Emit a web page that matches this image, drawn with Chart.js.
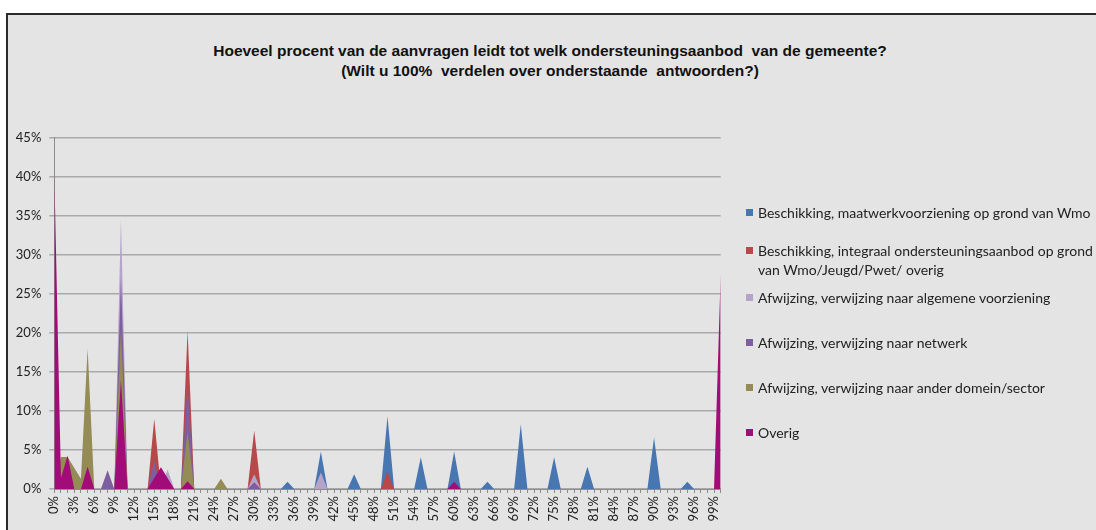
<!DOCTYPE html>
<html>
<head>
<meta charset="utf-8">
<script src="https://cdn.jsdelivr.net/npm/chart.js@4.4.0/dist/chart.umd.min.js"></script>
<style>
  html, body { margin: 0; padding: 0; background: #fff; }
  body { width: 1096px; height: 530px; position: relative; overflow: hidden; }
  #frame { position: absolute; left: 6px; top: 13px; width: 1100px; height: 530px;
           background: #e4e4e4; border-left: 2px solid #2b2b2b; border-top: 2px solid #2b2b2b; }
  #title { position: absolute; left: 0; top: 41px; width: 1100px; text-align: center;
           font: bold 15.5px "Liberation Sans", Arial, sans-serif; line-height: 20px; color: #111; }
  canvas { position: absolute; left: 0; top: 0; }
  #legend { position: absolute; left: 746px; top: 0; font: 14px Lato, sans-serif; color: #222; }
  .item { position: absolute; left: 0; white-space: nowrap; }
  .box { position: absolute; left: 0; width: 7px; height: 7px; }
  .txt { position: absolute; left: 12px; line-height: 19px; }
</style>
</head>
<body>
<div id="frame"></div>
<div id="title">Hoeveel procent van de aanvragen leidt tot welk ondersteuningsaanbod&nbsp; van de gemeente?<br>(Wilt u 100%&nbsp; verdelen over onderstaande&nbsp; antwoorden?)</div>
<canvas id="chart" width="1096" height="530"></canvas>
<div id="legend"></div>
<script>
// categories 0% .. 100%
const categories = Array.from({ length: 101 }, (_, i) => i + '%');
const yTicks = [0, 5, 10, 15, 20, 25, 30, 35, 40, 45];

// series values (percentage of respondents), only non-zero categories listed
const wmo = { 35: 0.94, 40: 4.8, 45: 1.9, 50: 9.3, 55: 4.05, 60: 4.8, 65: 0.94, 70: 8.3, 75: 4.05, 80: 2.85, 90: 6.6, 95: 0.94 };
const integraal = { 15: 9.0, 20: 20.3, 30: 7.5, 50: 2.2 };
const algemeen = { 10: 34.6, 17: 2.5, 30: 1.9, 40: 2.1 };
const netwerk = { 8: 2.4, 10: 27.0, 15: 3.6, 20: 13.3, 30: 0.86 };
const anderDomein = { 1: 4.1, 2: 4.1, 3: 2.7, 4: 1.3, 5: 18.0, 10: 20.5, 20: 7.3, 25: 1.3 };
const overig = { 0: 40.5, 1: 1.4, 2: 4.3, 5: 2.85, 10: 14.0, 15: 1.4, 16: 2.8, 17: 1.4, 20: 1.0, 60: 0.94, 100: 27.6 };

const seriesNames = [
  'Beschikking, maatwerkvoorziening op grond van Wmo',
  'Beschikking, integraal ondersteuningsaanbod op grond\nvan Wmo/Jeugd/Pwet/ overig',
  'Afwijzing, verwijzing naar algemene voorziening',
  'Afwijzing, verwijzing naar netwerk',
  'Afwijzing, verwijzing naar ander domein/sector',
  'Overig'
];
const seriesData = [wmo, integraal, algemeen, netwerk, anderDomein, overig];
const colors = ['#4876B0', '#B9484A', '#B6A3CA', '#7D5F9F', '#958B54', '#A20C78'];
const legendY = [212, 250, 297, 342, 387, 432];

const full = obj => categories.map((c, i) => obj[i] || 0);

// later series drawn on top, like the Excel original
const datasets = seriesData.map((s, k) => ({
  label: seriesNames[k],
  data: full(s),
  backgroundColor: colors[k],
  borderColor: 'rgba(0,0,0,0)',
  borderWidth: 0,
  pointRadius: 0,
  fill: 'origin',
  tension: 0,
  order: seriesData.length - k
}));

new Chart(document.getElementById('chart'), {
  type: 'line',
  data: { labels: categories, datasets: datasets },
  options: {
    responsive: false,
    animation: false,
    layout: { padding: { left: 0, top: 137.5, right: 375.3, bottom: 0 } },
    plugins: { legend: { display: false }, tooltip: { enabled: false } },
    scales: {
      x: {
        offset: false,
        afterFit: scale => { scale.height = 41; },
        grid: { drawOnChartArea: false, drawTicks: true, tickLength: 4, color: '#8c8c8c' },
        border: { display: true, color: '#8c8c8c' },
        ticks: {
          autoSkip: false, minRotation: 90, maxRotation: 90, padding: 3,
          color: '#222', font: { family: 'Lato', size: 13 },
          callback: (v, i) => (i % 3 === 0 ? categories[i] : '')
        }
      },
      y: {
        min: 0, max: 45,
        afterFit: scale => { scale.width = 54.3; },
        afterBuildTicks: scale => { scale.ticks = yTicks.map(v => ({ value: v })); },
        grid: { color: '#a9a9a9', lineWidth: 1.5, tickLength: 5 },
        border: { display: true, color: '#8c8c8c' },
        ticks: {
          padding: 8, color: '#222', font: { family: 'Lato', size: 13 },
          callback: v => v + '%'
        }
      }
    }
  }
});

// legend at the right, as in the original
const legend = document.getElementById('legend');
seriesNames.forEach((name, k) => {
  const lines = name.split('\n');
  const item = document.createElement('div');
  item.className = 'item';
  item.style.top = (legendY[k] - 9.5) + 'px';
  const box = document.createElement('div');
  box.className = 'box';
  box.style.background = colors[k];
  box.style.top = '6px';
  const txt = document.createElement('div');
  txt.className = 'txt';
  txt.innerHTML = lines.join('<br>');
  item.appendChild(box);
  item.appendChild(txt);
  legend.appendChild(item);
});
</script>
</body>
</html>
